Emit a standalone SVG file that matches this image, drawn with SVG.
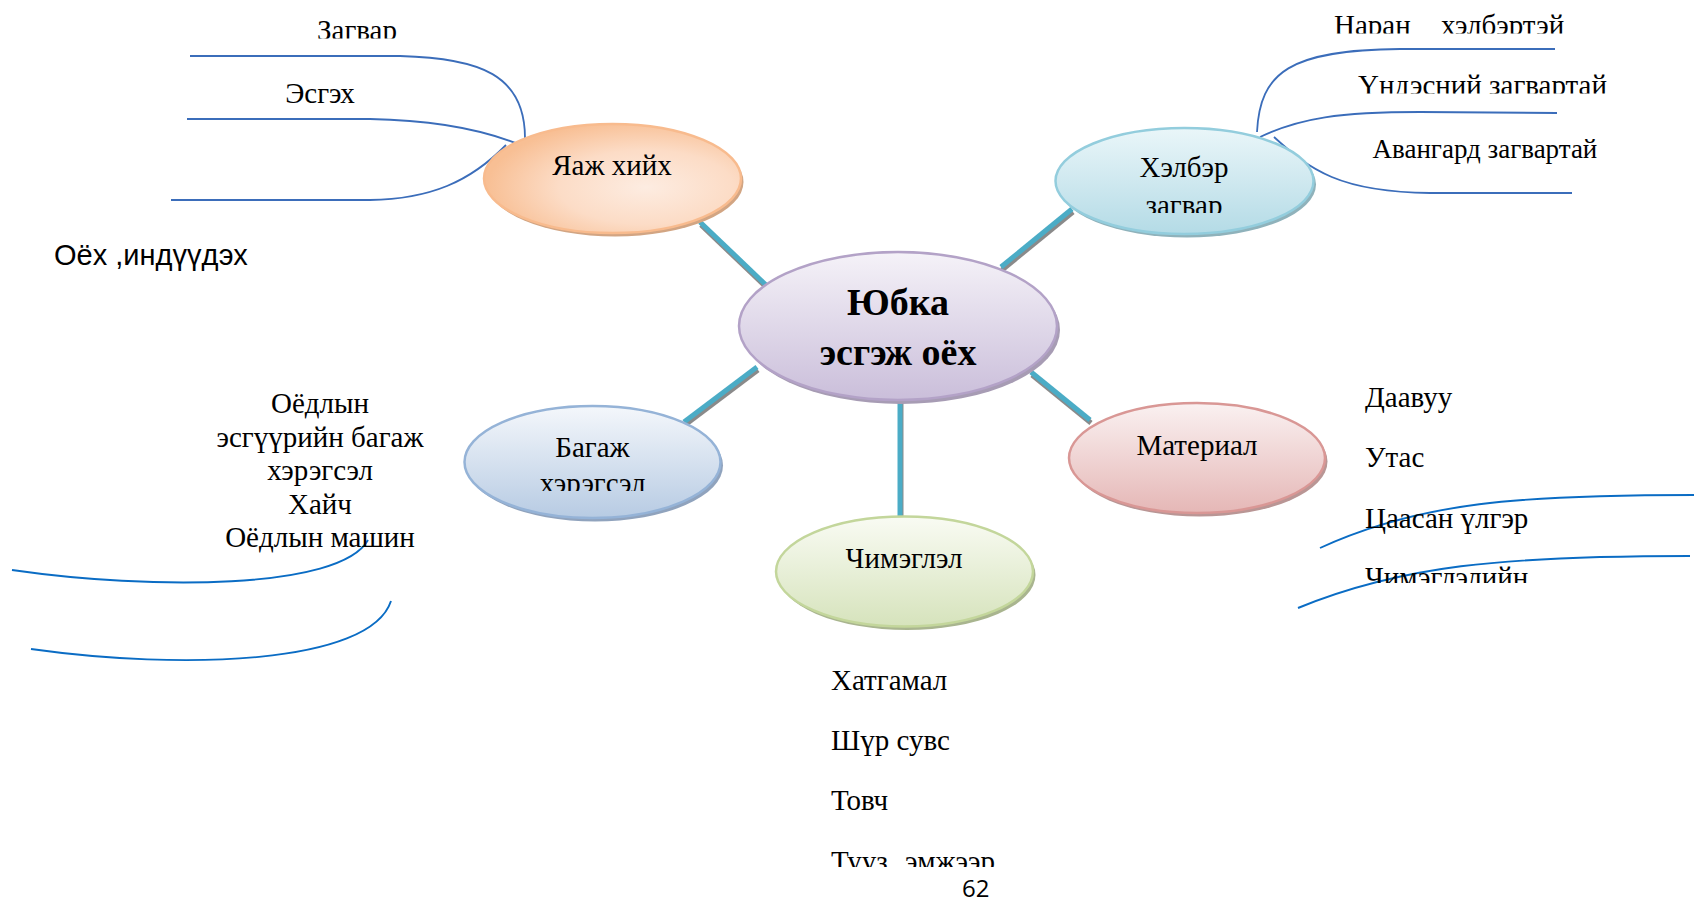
<svg xmlns="http://www.w3.org/2000/svg" width="1694" height="903" viewBox="0 0 1694 903">
<defs>
  <radialGradient id="gOrange" cx="0.63" cy="0.58" r="0.62">
    <stop offset="0" stop-color="#FDECE1"/>
    <stop offset="0.55" stop-color="#FCDCC6"/>
    <stop offset="1" stop-color="#F8BF94"/>
  </radialGradient>
  <linearGradient id="gTeal" x1="0" y1="0" x2="0" y2="1">
    <stop offset="0" stop-color="#EAF6F9"/>
    <stop offset="1" stop-color="#B4DBE6"/>
  </linearGradient>
  <linearGradient id="gBlue" x1="0" y1="0" x2="0" y2="1">
    <stop offset="0" stop-color="#F4F7FB"/>
    <stop offset="1" stop-color="#B7CBE3"/>
  </linearGradient>
  <linearGradient id="gPink" x1="0" y1="0" x2="0" y2="1">
    <stop offset="0" stop-color="#FAF1F1"/>
    <stop offset="1" stop-color="#E5B7B6"/>
  </linearGradient>
  <linearGradient id="gGreen" x1="0" y1="0" x2="0" y2="1">
    <stop offset="0" stop-color="#F9FBF3"/>
    <stop offset="1" stop-color="#D6E3BC"/>
  </linearGradient>
  <linearGradient id="gPurple" x1="0" y1="0" x2="0" y2="1">
    <stop offset="0" stop-color="#F5F2F8"/>
    <stop offset="1" stop-color="#CABEDA"/>
  </linearGradient>
  <clipPath id="clipZagvar"><rect x="0" y="0" width="700" height="38.5"/></clipPath>
  <clipPath id="clipNaran"><rect x="1200" y="0" width="494" height="33.5"/></clipPath>
  <clipPath id="clipUndes"><rect x="1200" y="60" width="494" height="33.5"/></clipPath>
  <clipPath id="clipKhelber"><rect x="1050" y="120" width="270" height="93"/></clipPath>
  <clipPath id="clipBagazh"><rect x="460" y="400" width="270" height="91"/></clipPath>
  <clipPath id="clipChimeg"><rect x="1300" y="550" width="394" height="33"/></clipPath>
  <clipPath id="clipTuuz"><rect x="800" y="830" width="300" height="37"/></clipPath>
</defs>
<style>
  .t { font-family: "Liberation Serif", "Times New Roman", serif; font-size: 29px; fill: #000; }
  .c { text-anchor: middle; }
  .b { font-weight: bold; font-size: 38px; }
  .s { font-family: "Liberation Sans", Arial, sans-serif; font-size: 29px; fill: #000; }
  .pg { font-family: "Open Sans", "Lato", sans-serif; font-size: 24px; fill: #000; }
  .curve { fill: none; stroke: #3B6DBA; stroke-width: 1.8; }
  .curve2 { fill: none; stroke: #0A6CC4; stroke-width: 1.9; }
  .conn { stroke: #4BACC6; stroke-width: 5; fill: none; }
  .connsh { stroke: #8A8A8A; stroke-width: 5; fill: none; }
  .ol { stroke-width: 2.5; }
</style>

<g id="connectors">
  <g transform="translate(1,3)">
    <line class="connsh" x1="700" y1="222" x2="766" y2="285"/>
    <line class="connsh" x1="1072" y1="209" x2="1001" y2="267"/>
    <line class="connsh" x1="684" y1="422" x2="757" y2="367"/>
    <line class="connsh" x1="1031" y1="372" x2="1090" y2="420"/>
    <line class="connsh" x1="900" y1="400" x2="900" y2="516"/>
  </g>
  <line class="conn" x1="700" y1="222" x2="766" y2="285"/>
  <line class="conn" x1="1072" y1="209" x2="1001" y2="267"/>
  <line class="conn" x1="684" y1="422" x2="757" y2="367"/>
  <line class="conn" x1="1031" y1="372" x2="1090" y2="420"/>
  <line class="conn" x1="900" y1="400" x2="900" y2="516"/>

  <path class="curve" d="M190,56 L400,56 C480,58 525,75 525,138"/>
  <path class="curve" d="M187,119 L370,119 C430,120 480,128 523,146"/>
  <path class="curve" d="M171,200 L370,200 C430,199 470,182 506,145"/>
  <path class="curve" d="M1257,132 C1260,72 1290,50 1400,49 L1555,49"/>
  <path class="curve" d="M1260,137 C1300,118 1340,112 1420,112 L1557,113"/>
  <path class="curve" d="M1274,137 C1310,170 1340,192 1430,193 L1572,193"/>
  <path class="curve2" d="M12,570 C150,590 340,590 368,540"/>
  <path class="curve2" d="M31,649 C180,670 370,665 391,601"/>
  <path class="curve2" d="M1320,548 C1420,502 1520,495 1694,495"/>
  <path class="curve2" d="M1298,608 C1400,566 1500,556 1690,556"/>
</g>

<g id="node-center">
  <ellipse cx="901" cy="330" rx="159" ry="74" fill="#A79CB4"/>
  <ellipse class="ol" cx="898" cy="326" rx="159" ry="74" fill="url(#gPurple)" stroke="#B3A2C7"/>
  <text class="t c b" x="898" y="315">Юбка</text>
  <text class="t c b" x="898" y="365">эсгэж оёх</text>
</g>

<g id="node-yaazh">
  <ellipse cx="615" cy="182" rx="128.5" ry="54.5" fill="#D2A583"/>
  <ellipse class="ol" cx="612.5" cy="178.5" rx="128.5" ry="54.5" fill="url(#gOrange)" stroke="#F8BB8E"/>
  <text class="t c" x="612" y="175">Яаж хийх</text>
</g>

<g id="node-khelber">
  <ellipse cx="1187" cy="184.5" rx="129" ry="53" fill="#8FB2BB"/>
  <ellipse class="ol" cx="1184.5" cy="181" rx="129" ry="53" fill="url(#gTeal)" stroke="#93CDDD"/>
  <g clip-path="url(#clipKhelber)">
    <text class="t c" x="1184" y="177">Хэлбэр</text>
    <text class="t c" x="1184" y="215">загвар</text>
  </g>
</g>

<g id="node-bagazh">
  <ellipse cx="595" cy="465.5" rx="128" ry="56" fill="#90A3BD"/>
  <ellipse class="ol" cx="592.5" cy="462" rx="128" ry="56" fill="url(#gBlue)" stroke="#95B3D7"/>
  <g clip-path="url(#clipBagazh)">
    <text class="t c" x="592.5" y="456.5">Багаж</text>
    <text class="t c" x="592.5" y="493">хэрэгсэл</text>
  </g>
</g>

<g id="node-material">
  <ellipse cx="1199.5" cy="461.5" rx="128" ry="55" fill="#B99695"/>
  <ellipse class="ol" cx="1197" cy="458" rx="128" ry="55" fill="url(#gPink)" stroke="#D99795"/>
  <text class="t c" x="1197" y="454.5">Материал</text>
</g>

<g id="node-chimeglel">
  <ellipse cx="907" cy="575" rx="128.5" ry="55" fill="#A9B58F"/>
  <ellipse class="ol" cx="904.5" cy="571.5" rx="128.5" ry="55" fill="url(#gGreen)" stroke="#C3D69B"/>
  <text class="t c" x="904" y="567.5">Чимэглэл</text>
</g>

<g id="labels-yaazh">
  <text class="t c" x="357" y="40" clip-path="url(#clipZagvar)">Загвар</text>
  <text class="t c" x="320" y="103.3">Эсгэх</text>
  <text class="s" x="54" y="265">Оёх ,индүүдэх</text>
</g>

<g id="labels-khelber">
  <g clip-path="url(#clipNaran)">
    <text class="t" x="1334" y="34.5">Наран</text>
    <text class="t" x="1441" y="34.5">хэлбэртэй</text>
  </g>
  <text class="t" x="1358" y="95" clip-path="url(#clipUndes)">Үндэсний загвартай</text>
  <text class="t" x="1372.5" y="158" style="font-size:27px">Авангард загвартай</text>
</g>

<g id="labels-bagazh">
  <text class="t c" x="320" y="413">Оёдлын</text>
  <text class="t c" x="320" y="446.5">эсгүүрийн багаж</text>
  <text class="t c" x="320" y="480">хэрэгсэл</text>
  <text class="t c" x="320" y="513.5">Хайч</text>
  <text class="t c" x="320" y="547">Оёдлын машин</text>
</g>

<g id="labels-material">
  <text class="t" x="1365" y="407">Даавуу</text>
  <text class="t" x="1365" y="467">Утас</text>
  <text class="t" x="1365" y="527.5">Цаасан үлгэр</text>
  <text class="t" x="1365" y="587" clip-path="url(#clipChimeg)">Чимэглэлийн</text>
</g>

<g id="labels-chimeglel">
  <text class="t" x="831" y="690">Хатгамал</text>
  <text class="t" x="831" y="750">Шүр сувс</text>
  <text class="t" x="831" y="810">Товч</text>
  <g clip-path="url(#clipTuuz)">
    <text class="t" x="831" y="871">Тууз</text>
    <text class="t" x="905" y="871">эмжээр</text>
  </g>
</g>

<text class="pg" x="962" y="897">62</text>
</svg>
